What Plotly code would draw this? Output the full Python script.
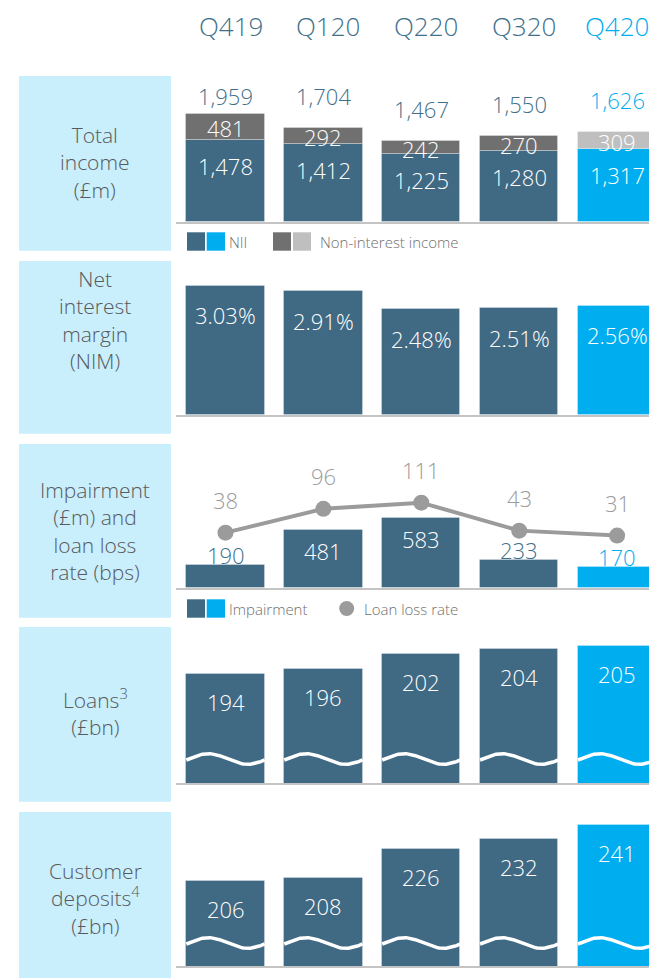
import numpy as np
import plotly.graph_objects as go

W, H = 649, 978

# ---------------- data ----------------
quarters = ["Q419", "Q120", "Q220", "Q320", "Q420"]
nii = [1478, 1412, 1225, 1280, 1317]
non_interest = [481, 292, 242, 270, 309]
total_income = [1959, 1704, 1467, 1550, 1626]
nim = [3.03, 2.91, 2.48, 2.51, 2.56]
impairment = [190, 481, 583, 233, 170]
loan_loss_rate = [38, 96, 111, 43, 31]
loans = [194, 196, 202, 204, 205]
deposits = [206, 208, 226, 232, 241]

# ---------------- style ----------------
FONT = "Open Sans"
WEIGHT = 300
DARK = "#406983"
CYAN = "#00aeef"
GREY_D = "#707070"
GREY_L = "#bfbfbf"
LINE_GREY = "#9b9b9b"
BOX = "#c9eefc"
LABEL_TXT = "#58595b"
HEAD_TXT = "#41708a"
AXIS_LINE = "#c4c4c4"

n = len(quarters)
xs = list(range(n))
last = n - 1
bar_cols = [DARK if i < last else CYAN for i in xs]
nonint_cols = [GREY_D if i < last else GREY_L for i in xs]
txt_cols = [HEAD_TXT if i < last else CYAN for i in xs]
BAR_W = 0.8

# panel geometry (pixel top, pixel baseline, axis min, px per unit)
panels = [
    (76, 221.7, 0, 0.0551),
    (261, 415, 0, 42.6),
    (444, 587.7, 0, 0.12),
    (627, 783, 151.2, 2.545),
    (812, 966, 152.4, 1.591),
]

X_LEFT_PX = 176
first_center_px = 225.5
period_px = 97.9
x_range = [-(first_center_px - X_LEFT_PX) / period_px, (W - first_center_px) / period_px]


def py(px):
    return 1 - px / H


def px_x(px):
    return px / W


fig = go.Figure()
layout = dict(
    width=W, height=H, margin=dict(l=0, r=0, t=0, b=0),
    paper_bgcolor="white", plot_bgcolor="rgba(0,0,0,0)",
    showlegend=False, font=dict(family=FONT), barmode="overlay",
)

for k, (top, base, ymin, sc) in enumerate(panels, start=1):
    sfx = "" if k == 1 else str(k)
    layout["xaxis" + sfx] = dict(
        domain=[X_LEFT_PX / W, 1], range=x_range, anchor="y" + sfx,
        showline=True, linecolor=AXIS_LINE, linewidth=2,
        showgrid=False, zeroline=False, showticklabels=False, ticks="",
        fixedrange=True,
    )
    layout["yaxis" + sfx] = dict(
        domain=[py(base), py(top)], range=[ymin, ymin + (base - top) / sc],
        anchor="x" + sfx, showgrid=False, zeroline=False,
        showticklabels=False, showline=False, ticks="", fixedrange=True,
    )

# secondary axis for the loan loss rate line
top3, base3 = panels[2][0], panels[2][1]
llr_zero_px, llr_sc = 548.3, 0.411
layout["yaxis6"] = dict(
    domain=[py(base3), py(top3)], overlaying="y3", anchor="x3",
    range=[-(base3 - llr_zero_px) / llr_sc, (llr_zero_px - top3) / llr_sc],
    showgrid=False, zeroline=False, showticklabels=False, ticks="", fixedrange=True,
)

edge = dict(width=1, color="rgba(255,255,255,0.28)")

# Panel 1: stacked income
fig.add_trace(go.Bar(x=xs, y=nii, width=BAR_W, marker=dict(color=bar_cols, line=edge),
                     xaxis="x", yaxis="y", hoverinfo="skip"))
fig.add_trace(go.Bar(x=xs, y=non_interest, base=nii, width=BAR_W,
                     marker=dict(color=nonint_cols, line=edge),
                     xaxis="x", yaxis="y", hoverinfo="skip"))
# Panel 2: NIM
fig.add_trace(go.Bar(x=xs, y=nim, width=BAR_W, marker=dict(color=bar_cols, line=edge),
                     xaxis="x2", yaxis="y2", hoverinfo="skip"))
# Panel 3: impairment + loan loss rate
fig.add_trace(go.Bar(x=xs, y=impairment, width=BAR_W, marker=dict(color=bar_cols, line=edge),
                     xaxis="x3", yaxis="y3", hoverinfo="skip"))
fig.add_trace(go.Scatter(x=xs, y=loan_loss_rate, mode="lines+markers",
                         line=dict(color=LINE_GREY, width=4),
                         marker=dict(color=LINE_GREY, size=16),
                         xaxis="x3", yaxis="y6", hoverinfo="skip"))
# Panel 4 / 5: loans & deposits
fig.add_trace(go.Bar(x=xs, y=loans, width=BAR_W, marker=dict(color=bar_cols, line=edge),
                     xaxis="x4", yaxis="y4", hoverinfo="skip"))
fig.add_trace(go.Bar(x=xs, y=deposits, width=BAR_W, marker=dict(color=bar_cols, line=edge),
                     xaxis="x5", yaxis="y5", hoverinfo="skip"))


# axis-break waves across the truncated bars
def wave_trace(panel_idx, center_off_px, amp_px, xa, ya):
    top, base, ymin, sc = panels[panel_idx]
    c = ymin + center_off_px / sc
    a = amp_px / sc
    wx, wy = [], []
    t = np.linspace(0, 1, 60)
    for i in xs:
        wx += list(i - BAR_W / 2 + t * BAR_W) + [None]
        wy += list(c + a * np.sin(2 * np.pi * (t - 0.03))) + [None]
    return go.Scatter(x=wx, y=wy, mode="lines", line=dict(color="white", width=3.5),
                      xaxis=xa, yaxis=ya, hoverinfo="skip")


fig.add_trace(wave_trace(3, 24, 5.3, "x4", "y4"))
fig.add_trace(wave_trace(4, 23, 5.3, "x5", "y5"))

ann = []
shapes = []


def A(text, x, y, xref, yref, size, color, yshift=0, xshift=0, xanchor="center"):
    ann.append(dict(text=text, x=x, y=y, xref=xref, yref=yref, showarrow=False,
                    font=dict(family=FONT, size=size, color=color, weight=WEIGHT),
                    xanchor=xanchor, yanchor="middle", yshift=yshift, xshift=xshift))


# column headers
for i, q in enumerate(quarters):
    A(q, i, py(26), "x", "paper", 26, txt_cols[i], xshift=(5 if i < last else 0))

NUM = 22
# panel 1 labels (totals sit 32px above the bar, but no higher than a ceiling row)
p1_top, p1_base, p1_min, p1_sc = panels[0]
TOTAL_CEIL_PX = 96
ceil_val = p1_min + (p1_base - TOTAL_CEIL_PX) / p1_sc
for i in xs:
    shift = min(32, (ceil_val - total_income[i]) * p1_sc)
    A(f"{total_income[i]:,}", i, total_income[i], "x", "y", NUM, txt_cols[i], yshift=shift)
    A(f"{non_interest[i]:,}", i, nii[i] + non_interest[i] / 2, "x", "y", NUM, "white", yshift=-1)
    A(f"{nii[i]:,}", i, nii[i], "x", "y", NUM, "white", yshift=-26)
# panel 2 labels
for i in xs:
    A(f"{nim[i]:.2f}%", i, nim[i], "x2", "y2", NUM, "white", yshift=-29.5)
# panel 3 labels
for i in xs:
    if impairment[i] >= 300:
        A(f"{impairment[i]:,}", i, impairment[i], "x3", "y3", NUM, "white", yshift=-21)
    else:
        A(f"{impairment[i]:,}", i, impairment[i], "x3", "y3", NUM, txt_cols[i], yshift=10)
    A(f"{loan_loss_rate[i]}", i, loan_loss_rate[i], "x3", "y6", NUM, LINE_GREY, yshift=33)
# panel 4/5 labels
for i in xs:
    A(f"{loans[i]}", i, loans[i], "x4", "y4", NUM, "white", yshift=-28)
    A(f"{deposits[i]}", i, deposits[i], "x5", "y5", NUM, "white", yshift=-28)

# left label boxes
boxes = [(76, 250.7), (261, 433.7), (444, 617.7), (627, 801.7), (812, 980)]
box_texts = [
    ("Total<br>income<br>(£m)", 163),
    ("Net<br>interest<br>margin<br>(NIM)", 320.5),
    ("Impairment<br>(£m) and<br>loan loss<br>rate (bps)", 530.5),
    ("Loans<sup>3</sup><br>(£bn)", 712),
    ("Customer<br>deposits<sup>4</sup><br>(£bn)", 898),
]
for (t0, b0) in boxes:
    shapes.append(dict(type="rect", xref="paper", yref="paper",
                       x0=px_x(19), x1=px_x(171), y0=py(b0), y1=py(t0),
                       fillcolor=BOX, line=dict(width=0), layer="below"))
for txt, cy in box_texts:
    A(txt, px_x(95), py(cy), "paper", "paper", 21, LABEL_TXT)


# legends
def sq(x0, x1, y0, y1, col):
    shapes.append(dict(type="rect", xref="paper", yref="paper",
                       x0=px_x(x0), x1=px_x(x1), y0=py(y1), y1=py(y0),
                       fillcolor=col, line=dict(width=0)))


LEG = 15
LEG_TXT = "#6f6f6f"
sq(187, 205, 232.3, 250.7, DARK)
sq(206.7, 225, 232.3, 250.7, CYAN)
A("NII", px_x(226.5), py(241.5), "paper", "paper", LEG, LEG_TXT, xanchor="left")
sq(273, 291, 232.3, 250.7, GREY_D)
sq(293, 311, 232.3, 250.7, GREY_L)
A("Non-interest income", px_x(317.5), py(241.5), "paper", "paper", LEG, LEG_TXT, xanchor="left")

sq(187, 205, 599.3, 617.7, DARK)
sq(206.7, 225, 599.3, 617.7, CYAN)
A("Impairment", px_x(226.5), py(608.5), "paper", "paper", LEG, LEG_TXT, xanchor="left")
shapes.append(dict(type="circle", xref="paper", yref="paper",
                   x0=px_x(339.2), x1=px_x(354.2), y0=py(616), y1=py(601),
                   fillcolor=LINE_GREY, line=dict(width=0)))
A("Loan loss rate", px_x(361.5), py(608.5), "paper", "paper", LEG, LEG_TXT, xanchor="left")

layout["annotations"] = ann
layout["shapes"] = shapes
layout["bargap"] = 0
fig.update_layout(**layout)

fig.write_html(
    "out.html",
    config={"displayModeBar": False},
    post_script="document.body.style.margin='0';document.body.style.overflow='hidden';",
)
